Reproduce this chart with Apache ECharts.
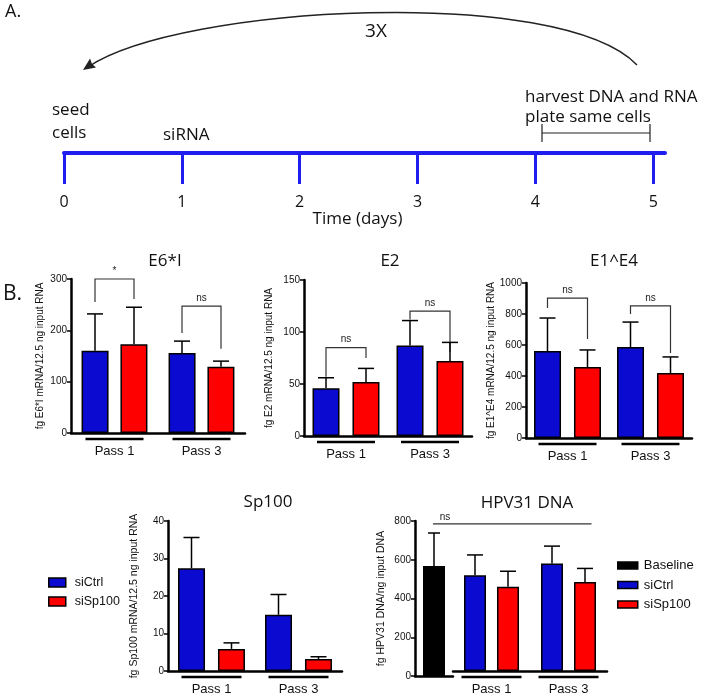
<!DOCTYPE html>
<html>
<head>
<meta charset="utf-8">
<script src="https://cdn.jsdelivr.net/npm/echarts@6/dist/echarts.min.js"></script>
<style>
html, body { margin: 0; padding: 0; background: #fff; }
#chart { width: 711px; height: 696px; }
</style>
</head>
<body>
<div id="chart"></div>
<script>
// categories
var passes = ['Pass 1', 'Pass 3'];
var days = [0, 1, 2, 3, 4, 5];

// E6*I  (mean, sd)
var e6Ctrl = [160, 156];
var e6CtrlSd = [72, 23];
var e6Sp = [173, 129];
var e6SpSd = [72, 11];
var e6Axis = [300, 100];
var e6Brackets = [[300, 255, 261], [247, 195, 164]]; // top, left leg end, right leg end
var e6Sig = ['*', 'ns'];

// E2
var e2Ctrl = [46, 87];
var e2CtrlSd = [10, 24];
var e2Sp = [52, 72];
var e2SpSd = [13, 18];
var e2Axis = [150, 50];
var e2Brackets = [[85, 57, 75], [120, 112, 81]];
var e2Sig = ['ns', 'ns'];

// E1^E4
var e14Ctrl = [561, 587];
var e14CtrlSd = [213, 161];
var e14Sp = [458, 419];
var e14SpSd = [110, 104];
var e14Axis = [1000, 200];
var e14Brackets = [[903, 839, 639], [852, 800, 548]];
var e14Sig = ['ns', 'ns'];

// Sp100
var spCtrl = [27.4, 15.0];
var spCtrlSd = [8.2, 5.4];
var spSp = [5.9, 3.2];
var spSpSd = [1.6, 0.6];
var spAxis = [40, 10];

// HPV31 DNA
var hpvBase = [568];
var hpvBaseSd = [170];
var hpvCtrl = [511, 573];
var hpvCtrlSd = [108, 93];
var hpvSp = [449, 475];
var hpvSpSd = [83, 72];
var hpvAxis = [800, 200];
var hpvNsLevel = 785;

var BLUE = '#0a0ad0';
var RED = '#ff0000';
var LINE_BLUE = '#1e1ef0';
var SANS = 'Liberation Sans';
var HUMAN = 'Open Sans';

var chart = echarts.init(document.getElementById('chart'));

function yAx(gi, ax, name, gap, size, show) {
  return {
    gridIndex: gi, type: 'value', min: 0, max: ax[0], interval: ax[1], show: show !== false,
    name: name, nameLocation: 'middle', nameGap: gap, nameRotate: 90,
    nameTextStyle: { fontFamily: SANS, fontSize: size, color: '#111' },
    axisLine: { show: true, lineStyle: { color: '#000', width: 2.5 } },
    axisTick: { show: true, length: 4, lineStyle: { color: '#000', width: 1.5 } },
    axisLabel: { fontFamily: SANS, fontSize: 10, color: '#111', margin: 4,
      formatter: function (v) { return String(v); } },
    splitLine: { show: false }
  };
}

function xAx(gi, cats, showLabel) {
  return {
    gridIndex: gi, type: 'category', data: cats,
    axisLine: { show: true, onZero: false, lineStyle: { color: '#000', width: 2.5 } },
    axisTick: { show: false },
    axisLabel: { show: showLabel, fontFamily: SANS, fontSize: 13, color: '#111', margin: 12 },
    splitLine: { show: false }
  };
}

function errRender(off, cap) {
  return function (params, api) {
    var i = api.value(0);
    var base = api.coord([i, api.value(1)]);
    var top = api.coord([i, api.value(1) + api.value(2)]);
    var x = base[0] + api.value(3) * off;
    var st = { stroke: '#000', lineWidth: 1.5 };
    return {
      type: 'group', children: [
        { type: 'line', shape: { x1: x, y1: base[1], x2: x, y2: top[1] }, style: st },
        { type: 'line', shape: { x1: x - cap, y1: top[1], x2: x + cap, y2: top[1] }, style: st }
      ]
    };
  };
}

function bracketRender(off, sig) {
  return function (params, api) {
    var i = api.value(0);
    var top = api.coord([i, api.value(1)]);
    var l = api.coord([i, api.value(2)])[1];
    var r = api.coord([i, api.value(3)])[1];
    var x1 = top[0] - off, x2 = top[0] + off;
    return {
      type: 'group', children: [
        { type: 'polyline', shape: { points: [[x1, l], [x1, top[1]], [x2, top[1]], [x2, r]] },
          style: { stroke: '#333', lineWidth: 1.2, fill: null } },
        { type: 'text', x: (x1 + x2) / 2, y: top[1] - 3,
          style: { text: sig[params.dataIndex], align: 'center', textAlign: 'center',
            verticalAlign: 'bottom', textVerticalAlign: 'bottom',
            font: '10px "Liberation Sans"', fill: '#222' } }
      ]
    };
  };
}

function underlineRender(half) {
  return function (params, api) {
    var p = api.coord([api.value(0), 0]);
    return { type: 'line', shape: { x1: p[0] - half, y1: p[1] + 6, x2: p[0] + half, y2: p[1] + 6 },
      style: { stroke: '#000', lineWidth: 2.5 } };
  };
}

function errRows(means, sds, slot) {
  return means.map(function (m, i) { return [i, m, sds[i], slot]; });
}

function pairSeries(gi, ctrl, ctrlSd, sp, spSd, brackets, sig, bw, gap, half) {
  var off = (bw + gap) / 2;
  var list = [
    { name: 'siCtrl', type: 'bar', xAxisIndex: gi, yAxisIndex: gi, data: ctrl, barWidth: bw,
      barGap: Math.round(gap / bw * 100) + '%',
      itemStyle: { color: BLUE, borderColor: '#000', borderWidth: 1.5 } },
    { name: 'siSp100', type: 'bar', xAxisIndex: gi, yAxisIndex: gi, data: sp, barWidth: bw,
      barGap: Math.round(gap / bw * 100) + '%',
      itemStyle: { color: RED, borderColor: '#000', borderWidth: 1.5 } },
    { type: 'custom', xAxisIndex: gi, yAxisIndex: gi, clip: false, z: 3,
      data: errRows(ctrl, ctrlSd, -1).concat(errRows(sp, spSd, 1)),
      renderItem: errRender(off, 8) },
    { type: 'custom', xAxisIndex: gi, yAxisIndex: gi, clip: false,
      data: [[0, 0], [1, 0]], renderItem: underlineRender(half) }
  ];
  if (brackets) {
    list.push({ type: 'custom', xAxisIndex: gi, yAxisIndex: gi, clip: false,
      data: brackets.map(function (b, i) { return [i, b[0], b[1], b[2]]; }),
      renderItem: bracketRender(off, sig) });
  }
  return list;
}

var series = []
  .concat(pairSeries(0, e6Ctrl, e6CtrlSd, e6Sp, e6SpSd, e6Brackets, e6Sig, 27, 12, 29))
  .concat(pairSeries(1, e2Ctrl, e2CtrlSd, e2Sp, e2SpSd, e2Brackets, e2Sig, 27, 13, 29))
  .concat(pairSeries(2, e14Ctrl, e14CtrlSd, e14Sp, e14SpSd, e14Brackets, e14Sig, 27, 13, 29))
  .concat(pairSeries(3, spCtrl, spCtrlSd, spSp, spSpSd, null, null, 27, 13, 30))
  .concat(pairSeries(5, hpvCtrl, hpvCtrlSd, hpvSp, hpvSpSd, null, null, 22, 11, 30));

series.push(
  { name: 'Baseline', type: 'bar', xAxisIndex: 4, yAxisIndex: 4, data: hpvBase, barWidth: 22,
    itemStyle: { color: '#000', borderColor: '#000', borderWidth: 1.5 } },
  { type: 'custom', xAxisIndex: 4, yAxisIndex: 4, clip: false, z: 3,
    data: errRows(hpvBase, hpvBaseSd, 0), renderItem: errRender(0, 6) }
);

// timeline (invisible carrier series so the axis renders)
series.push({ type: 'line', xAxisIndex: 6, yAxisIndex: 6, data: [], silent: true });

var titleFont = { fontFamily: HUMAN, fontSize: 17, fontWeight: 'normal', color: '#111' };
function ttl(text, x, y, size, align) {
  var ts = Object.assign({}, titleFont);
  if (size) ts.fontSize = size;
  return { text: text, left: x, top: y, padding: 0, textAlign: align || 'center', textStyle: ts };
}

var option = {
  animation: false,
  backgroundColor: '#fff',
  title: [
    ttl('A.', 5, 3, 18, 'left'),
    ttl('B.', 3, 284, 21, 'left'),
    ttl('E6*I', 165, 253),
    ttl('E2', 390, 253),
    ttl('E1^E4', 614, 253),
    ttl('Sp100', 268, 494),
    ttl('HPV31 DNA', 527, 495)
  ],
  legend: [
    { data: ['siCtrl', 'siSp100'], orient: 'vertical', left: 48, top: 576, padding: 0,
      itemWidth: 17, itemHeight: 9, itemGap: 6, icon: 'rect',
      itemStyle: { borderColor: '#000', borderWidth: 1.5 },
      textStyle: { fontFamily: SANS, fontSize: 12.5, color: '#111', padding: [0, 0, 0, 4] } },
    { data: ['Baseline', 'siCtrl', 'siSp100'], orient: 'vertical', left: 617, top: 559, padding: 0,
      itemWidth: 20, itemHeight: 7, itemGap: 6.5, icon: 'rect',
      itemStyle: { borderColor: '#000', borderWidth: 1.5 },
      textStyle: { fontFamily: SANS, fontSize: 13, color: '#111', padding: [0, 0, 0, 1] } }
  ],
  grid: [
    { left: 71, top: 279, width: 174, height: 154 },
    { left: 304, top: 280, width: 168, height: 156 },
    { left: 526, top: 283, width: 166, height: 155 },
    { left: 168, top: 521, width: 174, height: 155 },
    { left: 415, top: 521, width: 38, height: 155 },
    { left: 453, top: 521, width: 154, height: 155 },
    { left: 64, top: 143, width: 601, height: 10 }
  ],
  xAxis: [
    xAx(0, passes, true),
    xAx(1, passes, true),
    xAx(2, passes, true),
    xAx(3, passes, true),
    xAx(4, ['Baseline'], false),
    xAx(5, passes, true),
    {
      gridIndex: 6, type: 'value', min: 0, max: 5.1,
      name: 'Time (days)', nameLocation: 'middle', nameGap: 54,
      nameTextStyle: { fontFamily: HUMAN, fontSize: 17, color: '#111', padding: [0, 14, 0, 0] },
      axisLine: { show: true, lineStyle: { color: LINE_BLUE, width: 4 } },
      axisTick: { show: true, customValues: days, length: 31, lineStyle: { color: LINE_BLUE, width: 3 } },
      axisLabel: { customValues: days, margin: 41, fontFamily: HUMAN, fontSize: 16, color: '#111' },
      splitLine: { show: false }
    }
  ],
  yAxis: [
    yAx(0, e6Axis, 'fg E6*I mRNA/12.5 ng input RNA', 26, 10),
    yAx(1, e2Axis, 'fg E2 mRNA/12.5 ng input RNA', 30, 10),
    yAx(2, e14Axis, 'fg E1^E4 mRNA/12.5 ng input RNA', 29, 10),
    yAx(3, spAxis, 'fg Sp100 mRNA/12.5 ng input RNA', 28, 10.5),
    yAx(4, hpvAxis, 'fg HPV31 DNA/ng input DNA', 28, 10.5),
    yAx(5, hpvAxis, '', 0, 10, false),
    { gridIndex: 6, type: 'value', show: false, min: 0, max: 1 }
  ],
  series: series
};

chart.setOption(option);

// annotations: schematic for panel A and the HPV31 "ns" line
function txt(text, x, y, size, align) {
  return { type: 'text', x: x, y: y, z: 10,
    style: { text: text, font: size + 'px "' + HUMAN + '"', fill: '#111',
      align: align || 'left', textAlign: align || 'left',
      verticalAlign: 'middle', textVerticalAlign: 'middle' } };
}

var pb = chart.convertToPixel({ xAxisIndex: 4, yAxisIndex: 4 }, ['Baseline', hpvNsLevel]);
var p3 = chart.convertToPixel({ xAxisIndex: 5, yAxisIndex: 5 }, ['Pass 3', hpvNsLevel]);

var graphics = [
  { type: 'bezierCurve', z: 10,
    shape: { x1: 637, y1: 65, cpx1: 560, cpy1: -15, cpx2: 180, cpy2: 5, x2: 88, y2: 67 },
    style: { stroke: '#222', lineWidth: 1.5, fill: null } },
  { type: 'polygon', z: 10,
    shape: { points: [[83, 70], [96, 67.5], [92, 64], [90, 58.5]] },
    style: { fill: '#222' } },
  txt('3X', 376, 32, 19, 'center'),
  txt('seed', 52, 110, 17),
  txt('cells', 52, 133, 17),
  txt('siRNA', 163, 135, 17),
  txt('harvest DNA and RNA', 525, 97, 17),
  txt('plate same cells', 525, 117, 17),
  { type: 'polyline', z: 10,
    shape: { points: [[542, 124], [542, 142], [542, 133], [650, 133], [650, 124], [650, 142]] },
    style: { stroke: '#222', lineWidth: 1.2, fill: null } },
  { type: 'line', z: 10,
    shape: { x1: pb[0] - 1, y1: pb[1], x2: p3[0] + 23, y2: p3[1] },
    style: { stroke: '#333', lineWidth: 1.2 } },
  { type: 'text', z: 10, x: pb[0] + 11, y: pb[1] - 2,
    style: { text: 'ns', font: '10px "Liberation Sans"', fill: '#222',
      align: 'center', textAlign: 'center', verticalAlign: 'bottom', textVerticalAlign: 'bottom' } }
];

chart.setOption({ graphic: graphics });
</script>
</body>
</html>
